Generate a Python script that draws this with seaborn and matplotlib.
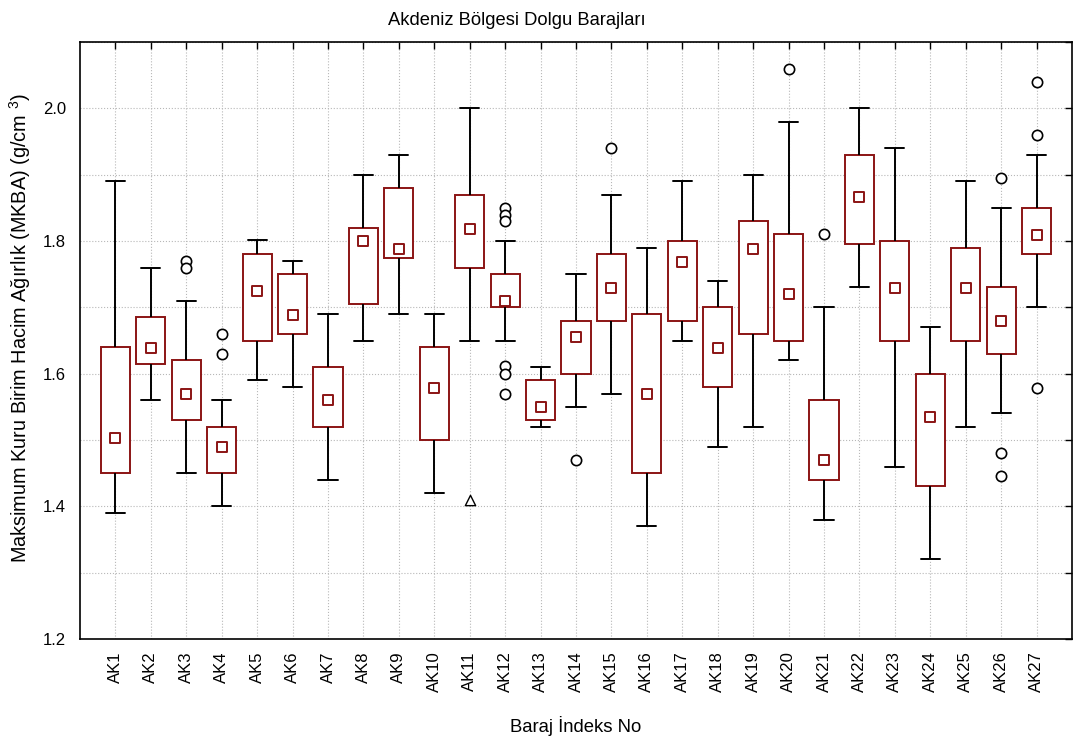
import matplotlib
matplotlib.use("Agg")
import matplotlib.pyplot as plt
import seaborn as sns
import pandas as pd
import numpy as np
from matplotlib.ticker import MultipleLocator

# ---- data ----
dams = [f"AK{i}" for i in range(1, 28)]
whisker_low = [1.39, 1.56, 1.45, 1.40, 1.59, 1.58, 1.44, 1.65, 1.69, 1.42,
               1.65, 1.65, 1.52, 1.55, 1.57, 1.37, 1.65, 1.49, 1.52, 1.62,
               1.38, 1.73, 1.46, 1.32, 1.52, 1.54, 1.70]
q1 = [1.45, 1.615, 1.53, 1.45, 1.65, 1.66, 1.52, 1.705, 1.775, 1.50,
      1.76, 1.70, 1.53, 1.60, 1.68, 1.45, 1.68, 1.58, 1.66, 1.65,
      1.44, 1.795, 1.65, 1.43, 1.65, 1.63, 1.78]
median = [1.503, 1.638, 1.57, 1.489, 1.724, 1.688, 1.56, 1.80, 1.788, 1.579,
          1.818, 1.71, 1.549, 1.655, 1.729, 1.57, 1.769, 1.638, 1.788, 1.72,
          1.47, 1.867, 1.729, 1.534, 1.729, 1.679, 1.809]
q3 = [1.64, 1.685, 1.62, 1.52, 1.78, 1.75, 1.61, 1.82, 1.88, 1.64,
      1.87, 1.75, 1.59, 1.68, 1.78, 1.69, 1.80, 1.70, 1.83, 1.81,
      1.56, 1.93, 1.80, 1.60, 1.79, 1.73, 1.85]
whisker_high = [1.89, 1.76, 1.71, 1.56, 1.802, 1.77, 1.69, 1.90, 1.93, 1.69,
                2.00, 1.80, 1.61, 1.75, 1.87, 1.79, 1.89, 1.74, 1.90, 1.98,
                1.70, 2.00, 1.94, 1.67, 1.89, 1.85, 1.93]
outlier_dams = ["AK3", "AK3", "AK4", "AK4",
                "AK12", "AK12", "AK12", "AK12", "AK12", "AK12",
                "AK14", "AK15", "AK20", "AK21",
                "AK26", "AK26", "AK26", "AK27", "AK27", "AK27"]
outlier_values = [1.77, 1.76, 1.66, 1.629,
                  1.85, 1.839, 1.83, 1.611, 1.60, 1.57,
                  1.47, 1.94, 2.06, 1.81,
                  1.895, 1.48, 1.446, 2.04, 1.96, 1.578]
extreme_dams = ["AK11"]
extreme_values = [1.41]

title = "Akdeniz Bölgesi Dolgu Barajları"
xlabel = "Baraj İndeks No"
ylabel = "Maksimum Kuru Birim Hacim Ağırlık (MKBA) (g/cm $^{3}$)"

# ---- long-form table of the five-number summaries ----
rows = []
for d, a, b, c, e, f in zip(dams, whisker_low, q1, median, q3, whisker_high):
    for v in (a, b, c, e, f):
        rows.append({"dam": d, "value": v})
box_df = pd.DataFrame(rows)
med_df = pd.DataFrame({"dam": dams, "value": median})
out_df = pd.DataFrame({"dam": outlier_dams, "value": outlier_values})
ext_df = pd.DataFrame({"dam": extreme_dams, "value": extreme_values})

sns.set_theme(style="white")
plt.rcParams["font.family"] = ["Liberation Sans", "DejaVu Sans"]
plt.rcParams["mathtext.fontset"] = "custom"
plt.rcParams["mathtext.rm"] = "Liberation Sans"
plt.rcParams["mathtext.it"] = "Liberation Sans"
plt.rcParams["text.color"] = "black"
plt.rcParams["axes.labelcolor"] = "black"
plt.rcParams["xtick.color"] = "black"
plt.rcParams["ytick.color"] = "black"

RED = "#8B1414"
fig = plt.figure(figsize=(10.79, 7.40), dpi=100)
ax = fig.add_axes([80 / 1079, 101 / 740, 992 / 1079, 597 / 740])

sns.boxplot(data=box_df, x="dam", y="value", order=dams, whis=(0, 100),
            width=0.82, showfliers=False, ax=ax, zorder=3,
            capwidths=0.54,
            boxprops={"facecolor": "white", "edgecolor": RED, "linewidth": 1.4},
            whiskerprops={"color": "black", "linewidth": 1.4},
            capprops={"color": "black", "linewidth": 1.4},
            medianprops={"visible": False})

sns.stripplot(data=med_df, x="dam", y="value", order=dams, jitter=False,
              marker="s", size=6.8, color="white", edgecolor=RED, linewidth=1.4,
              ax=ax, zorder=4)
sns.stripplot(data=out_df, x="dam", y="value", order=dams, jitter=False,
              marker="o", size=7.4, color="white", edgecolor="black", linewidth=1.2,
              ax=ax, zorder=4)
sns.stripplot(data=ext_df, x="dam", y="value", order=dams, jitter=False,
              marker="^", size=7.4, color="white", edgecolor="black", linewidth=1.0,
              ax=ax, zorder=4)

ax.set_xlim(-1, len(dams))
ax.set_ylim(1.2, 2.1)
ax.yaxis.set_major_locator(MultipleLocator(0.2))
ax.yaxis.set_minor_locator(MultipleLocator(0.1))
ax.set_yticks([1.2, 1.4, 1.6, 1.8, 2.0])
ax.set_yticklabels(["1.2", "1.4", "1.6", "1.8", "2.0"])

ax.grid(True, which="both", axis="y", linestyle=":", color="#b8b8b8", linewidth=0.8, zorder=0)
ax.grid(True, which="major", axis="x", linestyle=":", color="#b8b8b8", linewidth=0.8, zorder=0)
ax.set_axisbelow(True)

ax.tick_params(axis="both", which="both", direction="in", length=5, width=1.0,
               top=True, right=True, labelsize=12, colors="black")
ax.tick_params(axis="x", which="both", pad=9, labelrotation=90)
ax.tick_params(axis="y", which="both", pad=10)
for s in ax.spines.values():
    s.set_color("black")
    s.set_linewidth(1.2)
    s.set_visible(True)

ax.set_xlabel(xlabel, fontsize=13.3, labelpad=17, color="black")
ax.set_ylabel(ylabel, fontsize=14.3, color="black")
ax.yaxis.set_label_coords((33 - 80) / 992, 0.521)
ax.set_title(title, fontsize=13.2, pad=12, color="black", x=(517 - 80) / 992)

fig.savefig("out.png", dpi=100)
